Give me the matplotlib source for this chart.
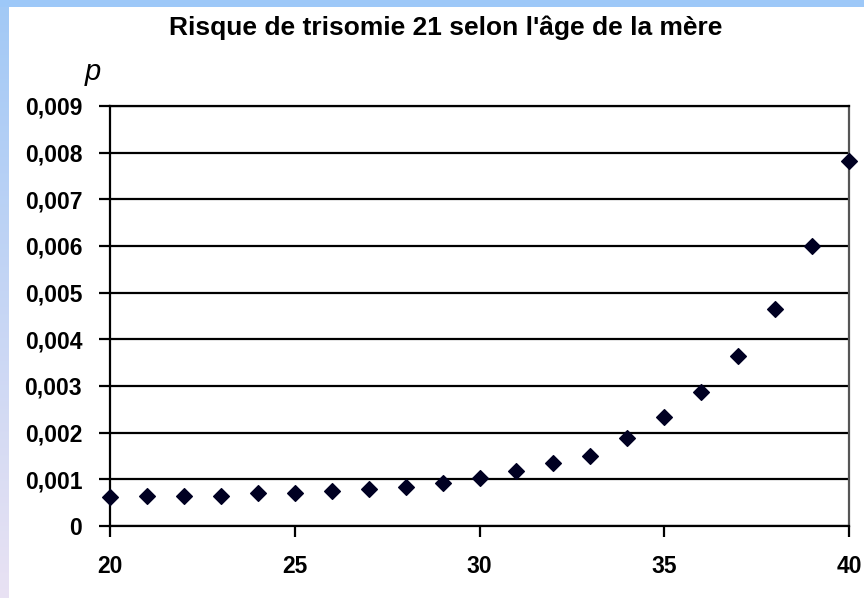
import numpy as np
import matplotlib
matplotlib.use("Agg")
import matplotlib.pyplot as plt
from matplotlib.ticker import FuncFormatter, MultipleLocator

# Données
ages = [20, 21, 22, 23, 24, 25, 26, 27, 28, 29, 30,
        31, 32, 33, 34, 35, 36, 37, 38, 39, 40]
risque = [0.00063, 0.00065, 0.00065, 0.00065, 0.00070, 0.00070, 0.00076,
          0.00079, 0.00083, 0.00092, 0.00103, 0.00117, 0.00134, 0.00151,
          0.00188, 0.00234, 0.00288, 0.00365, 0.00466, 0.00600, 0.00782]
titre = "Risque de trisomie 21 selon l'âge de la mère"

plt.rcParams['font.family'] = ['Liberation Sans', 'DejaVu Sans']

fig = plt.figure(figsize=(8.64, 5.98), dpi=100)
fig.patch.set_facecolor('white')

# bandeau bleu en haut et bande dégradée à gauche
fig.patches.append(plt.Rectangle((0, 1 - 7 / 598), 1, 7 / 598, transform=fig.transFigure,
                                 facecolor='#9dc8f8', edgecolor='none', zorder=0))
bande = fig.add_axes([0, 0, 9 / 864, 1 - 7 / 598])
grad = np.linspace(0, 1, 256).reshape(-1, 1)
cmap = matplotlib.colors.LinearSegmentedColormap.from_list('bande', ['#a2c9f6', '#e9e2f3'])
bande.imshow(grad, aspect='auto', cmap=cmap, extent=[0, 1, 0, 1], origin='upper')
bande.axis('off')

ax = fig.add_axes([110 / 864, 1 - 526 / 598, (849 - 110) / 864, (526 - 106) / 598])
ax.scatter(ages, risque, marker='D', s=64, color='#000022', zorder=3, clip_on=False)

ax.set_xlim(20, 40)
ax.set_ylim(0, 0.009)
ax.xaxis.set_major_locator(MultipleLocator(5))
ax.yaxis.set_major_locator(MultipleLocator(0.001))

def virgule(v, pos):
    if abs(v) < 1e-12:
        return "0"
    return f"{v:.3f}".replace('.', ',')

ax.yaxis.set_major_formatter(FuncFormatter(virgule))
ax.grid(axis='y', color='black', linewidth=1.6)
ax.set_axisbelow(True)
for s in ['left', 'bottom', 'top']:
    ax.spines[s].set_color('black')
    ax.spines[s].set_linewidth(1.6)
ax.spines['right'].set_color('#555555')
ax.spines['right'].set_linewidth(1.6)

ax.tick_params(axis='both', direction='out', length=8, width=1.6, color='black',
               labelsize=16.5)
ax.tick_params(axis='y', pad=12)
ax.tick_params(axis='x', pad=13)
for lab in ax.get_xticklabels() + ax.get_yticklabels():
    lab.set_fontweight('bold')

fig.text(446 / 864, 1 - 28 / 598, titre, ha='center', va='center',
         fontsize=19, fontweight='bold')
fig.text(93 / 864, 1 - 72 / 598, 'p', ha='center', va='center',
         fontsize=21, style='italic')

fig.savefig('out.png', dpi=100)
